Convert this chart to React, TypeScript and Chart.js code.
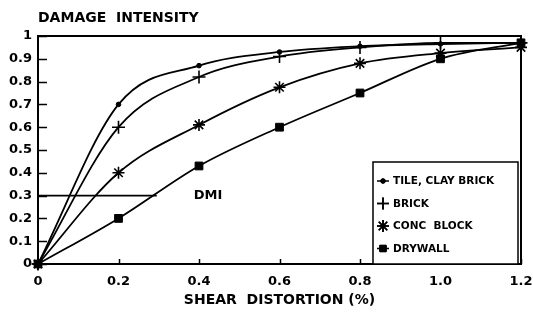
import React, { useEffect, useRef } from "react";
import { Chart, registerables } from "chart.js";
import { drawPoint } from "chart.js/helpers";

Chart.register(...registerables);

// ---- data ----
const xValues = [0, 0.2, 0.4, 0.6, 0.8, 1.0, 1.2];
const tileClayBrick = [0, 0.7, 0.87, 0.93, 0.955, 0.965, 0.97];
const brick = [0, 0.6, 0.82, 0.91, 0.95, 0.97, 0.97];
const concBlock = [0, 0.4, 0.61, 0.775, 0.88, 0.925, 0.95];
const drywall = [0, 0.2, 0.43, 0.6, 0.75, 0.9, 0.97];

const seriesLabels = ["TILE, CLAY BRICK", "BRICK", "CONC  BLOCK", "DRYWALL"];

const xTicks = [0, 0.2, 0.4, 0.6, 0.8, 1.0, 1.2];
const xTickLabels = ["0", "0.2", "0.4", "0.6", "0.8", "1.0", "1.2"];
const yTicks = [0, 0.1, 0.2, 0.3, 0.4, 0.5, 0.6, 0.7, 0.8, 0.9, 1];
const yTickLabels = ["0", "0.1", "0.2", "0.3", "0.4", "0.5", "0.6", "0.7", "0.8", "0.9", "1"];

const yTitle = "DAMAGE  INTENSITY";
const xTitle = "SHEAR  DISTORTION (%)";
const dmiLabel = "DMI";
const dmiLevel = 0.3;
const dmiEndX = 0.295;
const dmiLabelX = 0.387;

const FONT = '"DejaVu Sans", "Liberation Sans", Arial, sans-serif';

type Style = { pointStyle: string; radius: number; borderWidth: number };
const styles: Style[] = [
  { pointStyle: "circle", radius: 2.3, borderWidth: 1 },
  { pointStyle: "cross", radius: 6.5, borderWidth: 1.6 },
  { pointStyle: "star", radius: 6, borderWidth: 1.6 },
  { pointStyle: "rect", radius: 5.5, borderWidth: 1 },
];

const decorPlugin = {
  id: "decor",
  beforeDatasetsDraw(chart: any) {
    const { ctx, chartArea: a, scales } = chart;
    const xs = scales.x;
    const ys = scales.y;
    ctx.save();
    ctx.strokeStyle = "#000";
    ctx.fillStyle = "#000";
    // frame
    ctx.lineWidth = 2;
    ctx.strokeRect(a.left, a.top, a.right - a.left, a.bottom - a.top);
    // tick marks (inside)
    ctx.lineWidth = 1.5;
    ctx.beginPath();
    yTicks.forEach((v) => {
      const py = Math.round(ys.getPixelForValue(v)) + 0.5;
      ctx.moveTo(a.left, py);
      ctx.lineTo(a.left + 9, py);
    });
    xTicks.forEach((v) => {
      const px = Math.round(xs.getPixelForValue(v)) + 0.5;
      ctx.moveTo(px, a.bottom);
      ctx.lineTo(px, a.bottom - 5);
    });
    ctx.stroke();
    // DMI line
    ctx.lineWidth = 1.8;
    ctx.beginPath();
    const dy = ys.getPixelForValue(dmiLevel);
    ctx.moveTo(xs.getPixelForValue(0), dy);
    ctx.lineTo(xs.getPixelForValue(dmiEndX), dy);
    ctx.stroke();
    ctx.font = `bold 13px ${FONT}`;
    ctx.textAlign = "left";
    ctx.textBaseline = "middle";
    ctx.fillText(dmiLabel, xs.getPixelForValue(dmiLabelX), dy);
    // titles
    ctx.font = `bold 14px ${FONT}`;
    ctx.textAlign = "left";
    ctx.fillText(yTitle, a.left, 18);
    ctx.textAlign = "center";
    ctx.fillText(xTitle, (a.left + a.right) / 2, 300);
    ctx.restore();
  },
  afterDatasetsDraw(chart: any) {
    const { ctx, chartArea: a } = chart;
    const w = 145;
    const h = 102;
    const bx = a.right - 3 - w;
    const by = a.bottom - h;
    ctx.save();
    ctx.fillStyle = "#fff";
    ctx.fillRect(bx, by, w, h);
    ctx.strokeStyle = "#000";
    ctx.lineWidth = 1.5;
    ctx.strokeRect(bx, by, w, h);
    ctx.fillStyle = "#000";
    ctx.font = `bold 10.5px ${FONT}`;
    ctx.textAlign = "left";
    ctx.textBaseline = "middle";
    seriesLabels.forEach((lab, i) => {
      const ry = by + 19 + i * 22.5;
      const mx = bx + 10;
      const st = styles[i];
      if (i === 0 || i === 3) {
        ctx.lineWidth = 1.5;
        ctx.beginPath();
        ctx.moveTo(bx + 4, ry);
        ctx.lineTo(bx + 16, ry);
        ctx.stroke();
      }
      ctx.lineWidth = st.borderWidth;
      drawPoint(ctx, {
        pointStyle: st.pointStyle as any,
        radius: i === 3 ? 4.5 : i === 0 ? 2.2 : 6,
        rotation: 0,
        borderWidth: st.borderWidth,
      } as any, mx, ry);
      ctx.fill();
      ctx.stroke();
      ctx.fillText(lab, bx + 20, ry + 0.5);
    });
    ctx.restore();
  },
};

export default function App() {
  const ref = useRef<HTMLCanvasElement>(null);
  useEffect(() => {
    if (!ref.current) return;
    const series = [tileClayBrick, brick, concBlock, drywall];
    const chart = new Chart(ref.current, {
      type: "line",
      data: {
        datasets: series.map((s, i) => ({
          label: seriesLabels[i],
          data: s.map((v, j) => ({ x: xValues[j], y: v })),
          borderColor: "#000",
          backgroundColor: "#000",
          borderWidth: 1.8,
          pointStyle: styles[i].pointStyle as any,
          pointRadius: styles[i].radius,
          pointBorderWidth: styles[i].borderWidth,
          pointBackgroundColor: "#000",
          pointBorderColor: "#000",
          fill: false,
          cubicInterpolationMode: "monotone" as const,
          clip: false as any,
        })),
      },
      options: {
        animation: false,
        responsive: false,
        layout: { padding: { top: 36, right: 12, left: 0, bottom: 0 } },
        plugins: {
          legend: { display: false },
          title: { display: false },
          tooltip: { enabled: false },
        },
        scales: {
          x: {
            type: "linear",
            min: 0,
            max: 1.2,
            afterBuildTicks: (s: any) => {
              s.ticks = xTicks.map((v) => ({ value: v }));
            },
            afterFit: (s: any) => {
              s.height = 50;
              s.paddingLeft = 0;
              s.paddingRight = 0;
            },
            grid: { display: false, drawTicks: false },
            border: { display: true, color: "#000", width: 2 },
            ticks: {
              color: "#000",
              padding: 10,
              maxRotation: 0,
              autoSkip: false,
              font: { family: FONT, size: 13, weight: "bold" },
              callback: (_v: any, i: number) => xTickLabels[i],
            },
          },
          y: {
            type: "linear",
            min: 0,
            max: 1,
            afterBuildTicks: (s: any) => {
              s.ticks = yTicks.map((v) => ({ value: v }));
            },
            afterFit: (s: any) => {
              s.width = 38;
              s.paddingTop = 0;
              s.paddingBottom = 0;
            },
            grid: { display: false, drawTicks: false },
            border: { display: true, color: "#000", width: 2 },
            ticks: {
              color: "#000",
              padding: 6,
              autoSkip: false,
              font: { family: FONT, size: 13, weight: "bold" },
              callback: (_v: any, i: number) => yTickLabels[i],
            },
          },
        },
      },
      plugins: [decorPlugin],
    });
    return () => chart.destroy();
  }, []);
  return (
    <canvas
      ref={ref}
      width={533}
      height={314}
      style={{ position: "absolute", left: 0, top: 0, width: 533, height: 314, background: "#fff" }}
    />
  );
}
